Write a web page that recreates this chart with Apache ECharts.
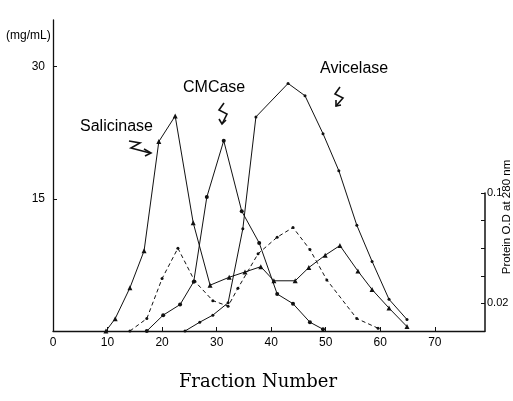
<!DOCTYPE html>
<html><head><meta charset="utf-8">
<script src="https://cdn.jsdelivr.net/npm/echarts@6/dist/echarts.min.js"></script>
<style>html,body{margin:0;padding:0;background:#fff}#c{width:513px;height:401px}</style>
</head><body><div id="c"></div>
<script>
// Fraction numbers and values
const salicinaseX = [9.7,11.4,14.1,16.7,19.4,22.4,25.7,28.8,32.3,35.2,38.1,40.5,44.4,46.9,49.9,52.6,55.9,58.5,61.6,64.9];
const salicinaseY = [0,1.4,4.9,9.1,21.5,24.4,12.3,5.2,6.1,6.7,7.3,5.7,5.7,7.2,8.6,9.7,6.8,4.7,2.6,0.5];
const cmcaseX = [17.2,20.2,23.3,25.8,28.2,31.3,34.6,37.8,41.1,44.0,47.1,49.5];
const cmcaseY = [0,1.8,3.0,5.6,15.2,21.6,13.6,10.0,4.2,3.1,1.0,0.2];
const avicelaseX = [24.2,26.9,29.3,32.1,34.8,37.2,43.1,46.2,49.5,52.4,55.7,58.5,61.6,64.9];
const avicelaseY = [0,1.0,1.8,3.2,11.6,24.3,28.1,26.7,22.4,18.2,12.0,7.9,3.6,1.3];
const proteinX = [14.1,17.2,20.0,22.9,26.0,29.3,32.1,33.9,37.6,41.1,44.0,47.1,50.2,55.7,59.6];
const proteinY = [0,0.009,0.038,0.060,0.036,0.022,0.018,0.031,0.056,0.068,0.075,0.059,0.037,0.009,0.002];
const leftTickLabels = [15, 30];
const rightTickLabels = [0.02, 0.1];
const xTickLabels = [0,10,20,30,40,50,60,70];

const zip = (xs, ys) => xs.map((x, i) => [x, ys[i]]);
const ink = '#111';
const chart = echarts.init(document.getElementById('c'), null, {renderer: 'canvas'});
const baseLine = {type: 'line', symbol: 'circle', symbolSize: 4, itemStyle: {color: ink}, lineStyle: {color: ink, width: 1}, animation: false, z: 3};

chart.setOption({
  backgroundColor: '#fff',
  animation: false,
  grid: [
    {left: 53, top: 20, width: 432, height: 311},
    {left: 53, top: 193, width: 432, height: 138}
  ],
  xAxis: [
    {gridIndex: 0, type: 'value', min: 0, max: 79.2, interval: 10,
     axisLine: {onZero: false, lineStyle: {color: ink, width: 1.3}},
     axisTick: {inside: true, length: 4, lineStyle: {color: ink}},
     axisLabel: {color: '#000', fontFamily: 'Liberation Sans', fontSize: 12, margin: 6, showMaxLabel: false,
       formatter: v => xTickLabels.includes(v) ? String(v) : ''},
     splitLine: {show: false}},
    {gridIndex: 1, type: 'value', min: 0, max: 79.2, show: false, axisLine: {onZero: false}}
  ],
  yAxis: [
    {gridIndex: 0, type: 'value', min: 0, max: 35.3, interval: 15,
     axisLine: {show: true, onZero: false, lineStyle: {color: ink, width: 1.3}},
     axisTick: {show: true, inside: true, length: 4, lineStyle: {color: ink}},
     axisLabel: {color: '#000', fontFamily: 'Liberation Sans', fontSize: 12, margin: 8, showMaxLabel: false,
       formatter: v => leftTickLabels.includes(v) ? String(v) : ''},
     splitLine: {show: false}},
    {gridIndex: 1, type: 'value', position: 'right', min: 0, max: 0.1, interval: 0.02,
     axisLine: {show: true, onZero: false, lineStyle: {color: ink, width: 1.5}},
     axisTick: {show: true, inside: true, length: 4, lineStyle: {color: ink}},
     axisLabel: {color: '#000', fontFamily: 'Liberation Sans', fontSize: 11, margin: 2,
       formatter: v => rightTickLabels.some(t => Math.abs(t - v) < 1e-9) ? String(Math.round(v*100)/100) : ''},
     splitLine: {show: false}}
  ],
  series: [
    Object.assign({}, baseLine, {name: 'Salicinase', symbol: 'triangle', symbolSize: 5, data: zip(salicinaseX, salicinaseY)}),
    Object.assign({}, baseLine, {name: 'CMCase', data: zip(cmcaseX, cmcaseY)}),
    Object.assign({}, baseLine, {name: 'Avicelase', symbolSize: 3, data: zip(avicelaseX, avicelaseY)}),
    Object.assign({}, baseLine, {name: 'Protein', xAxisIndex: 1, yAxisIndex: 1, symbolSize: 3,
      lineStyle: {color: ink, width: 1, type: [4, 3]}, data: zip(proteinX, proteinY)})
  ],
  graphic: [
    {type: 'text', left: 6, top: 30, style: {text: '(mg/mL)', font: '12px "Liberation Sans"', fill: '#000'}},
    {type: 'text', left: 80, top: 119, style: {text: 'Salicinase', font: '16px "Liberation Sans"', fill: '#000'}},
    {type: 'text', left: 183, top: 80, style: {text: 'CMCase', font: '16px "Liberation Sans"', fill: '#000'}},
    {type: 'text', left: 320, top: 61, style: {text: 'Avicelase', font: '16px "Liberation Sans"', fill: '#000'}},
    {type: 'text', x: 258, y: 382, style: {text: 'Fraction Number', font: '18px "DejaVu Serif"', fill: '#000', align: 'center', verticalAlign: 'middle'}},
    {type: 'text', x: 507, y: 217, rotation: Math.PI/2, style: {text: 'Protein O.D at 280 nm', font: '11.5px "Liberation Sans"', fill: '#000', align: 'center', verticalAlign: 'middle'}},
    // squiggly arrows
    {type: 'polyline', shape: {points: [[129,141],[140,143],[131,148],[150,153]]}, style: {stroke: ink, lineWidth: 1.6, fill: null}},
    {type: 'polyline', shape: {points: [[144,149],[151,153],[145,156]]}, style: {stroke: ink, lineWidth: 1.6, fill: null}},
    {type: 'polyline', shape: {points: [[224,103],[219,110],[227,114],[222,124]]}, style: {stroke: ink, lineWidth: 1.6, fill: null}},
    {type: 'polyline', shape: {points: [[219,119],[222,124],[226,120]]}, style: {stroke: ink, lineWidth: 1.6, fill: null}},
    {type: 'polyline', shape: {points: [[340,87],[335,94],[343,98],[336,106]]}, style: {stroke: ink, lineWidth: 1.6, fill: null}},
    {type: 'polyline', shape: {points: [[336,100],[336,106],[341,105]]}, style: {stroke: ink, lineWidth: 1.6, fill: null}}
  ]
});
</script></body></html>
